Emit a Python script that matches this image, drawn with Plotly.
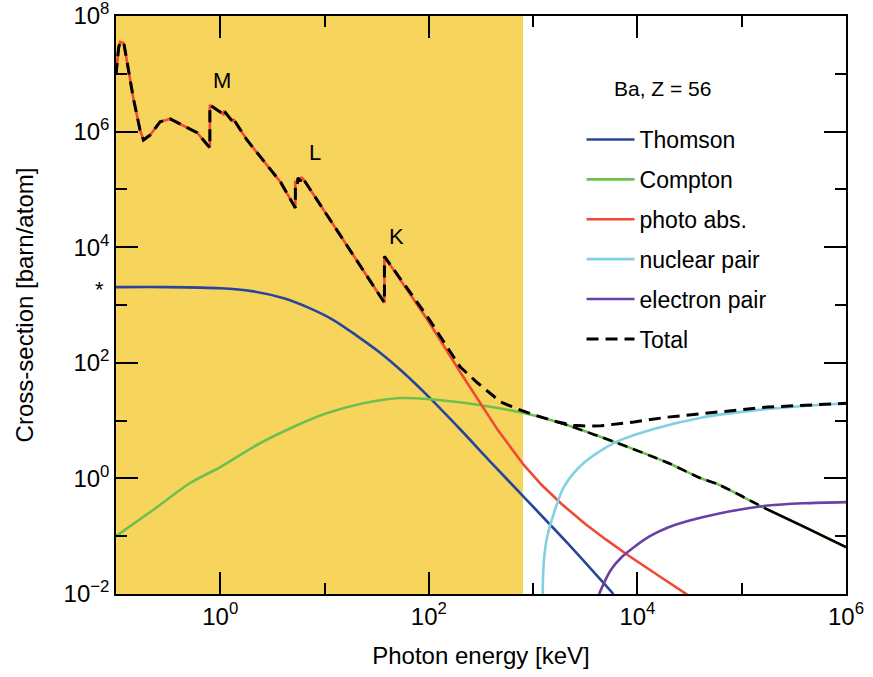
import plotly.graph_objects as go

# ---------------- data (log10 of photon energy [keV], log10 of cross-section [barn/atom]) ----------
thomson_logE = [-1.0, -0.5, 0.0, 0.3, 0.6, 0.85, 1.085, 1.3, 1.536, 1.75, 2.016, 2.3, 2.6, 2.91, 3.33, 3.77]
thomson_logS = [3.31, 3.31, 3.29, 3.24, 3.12, 2.95, 2.74, 2.48, 2.17, 1.84, 1.38, 0.85, 0.27, -0.32, -1.12, -2.0]

compton_logE = [-1.0, -0.645, -0.289, 0.0, 0.383, 0.70, 1.027, 1.373, 1.728, 2.016, 2.37, 2.91, 3.33, 3.81, 4.29, 4.61, 4.77, 5.215, 5.6, 6.0]
compton_logS = [-1.0, -0.547, -0.08, 0.197, 0.61, 0.89, 1.13, 1.30, 1.39, 1.37, 1.30, 1.13, 0.92, 0.61, 0.27, 0.0, -0.10, -0.51, -0.84, -1.19]

photo_logE = [-1.0, -0.975, -0.96, -0.925, -0.897, -0.836, -0.77, -0.737, -0.673, -0.577, -0.481, -0.356, -0.222,
              -0.1, -0.1, 0.03, 0.035, 0.12, 0.125, 0.256, 0.412, 0.58, 0.72,
              0.72, 0.74, 0.745, 0.77, 0.775, 0.80, 1.0, 1.2, 1.4, 1.574,
              1.574, 1.985, 2.30, 2.497, 2.66, 2.91, 3.08, 3.265, 3.5, 3.7, 3.91, 4.2, 4.485]
photo_logS = [6.98, 7.45, 7.55, 7.53, 7.24, 6.60, 6.03, 5.855, 5.94, 6.17, 6.22, 6.11, 5.98,
              5.72, 6.46, 6.30, 6.36, 6.17, 6.22, 5.855, 5.51, 5.12, 4.68,
              5.13, 5.12, 5.20, 5.14, 5.21, 5.17, 4.62, 4.07, 3.52, 3.04,
              3.84, 2.75, 1.84, 1.30, 0.84, 0.232, -0.11, -0.43, -0.79, -1.06, -1.33, -1.68, -2.02]

nuclear_logE = [3.09, 3.10, 3.13, 3.17, 3.294, 3.486, 3.774, 4.13, 4.61, 5.25, 6.0]
nuclear_logS = [-2.2, -1.5, -1.05, -0.77, -0.15, 0.27, 0.61, 0.84, 1.05, 1.20, 1.30]

electron_logE = [3.60, 3.63, 3.745, 3.85, 3.966, 4.12, 4.293, 4.5, 4.773, 5.254, 5.6, 6.0]
electron_logS = [-2.3, -2.02, -1.585, -1.36, -1.19, -1.0, -0.85, -0.73, -0.61, -0.47, -0.43, -0.41]

total_high_logE = [1.985, 2.30, 2.468, 2.69, 2.88, 3.025, 3.236, 3.39, 3.52, 3.65, 3.80, 3.966, 4.29, 4.77, 5.25, 6.0]
total_high_logS = [2.80, 1.93, 1.65, 1.32, 1.18, 1.09, 0.976, 0.92, 0.905, 0.91, 0.94, 0.976, 1.06, 1.15, 1.235, 1.30]

# second black curve (sum without pair production) following Compton at high energy
nopair_logE = [3.236, 3.33, 3.81, 4.29, 4.61, 4.77, 5.215]
nopair_logS = [0.976, 0.92, 0.61, 0.27, 0.0, -0.10, -0.51]
nopair_tail_logE = [5.215, 5.6, 6.0]
nopair_tail_logS = [-0.51, -0.84, -1.19]

edge_labels = ["M", "L", "K"]
edge_label_logE = [0.02, 0.91, 1.69]
edge_label_logS = [6.88, 5.64, 4.19]

shade_max_keV = 800.0
x_tickvals = [1, 1e2, 1e4, 1e6]
x_ticktext = ["10<sup>0</sup>", "10<sup>2</sup>", "10<sup>4</sup>", "10<sup>6</sup>"]
x_minor = [1e-1, 1e1, 1e3, 1e5]
y_tickvals = [1e-2, 1, 1e2, 1e4, 1e6, 1e8]
y_ticktext = ["10<sup>\u22122</sup>", "10<sup>0</sup>", "10<sup>2</sup>", "10<sup>4</sup>", "10<sup>6</sup>", "10<sup>8</sup>"]
y_minor = [1e-1, 1e1, 1e3, 1e5, 1e7]

# ---------------------------------------------------------------------------------------------
def p10(a):
    return [10 ** v for v in a]

FONT = "Liberation Sans"
BLUE = "#28459c"
GREEN = "#6cc04f"
RED = "#ee4a35"
CYAN = "#82d1e2"
PURPLE = "#6a3fa6"
YELLOW = "#f7d55c"
LW = 2.6

fig = go.Figure()

# shaded region
fig.add_trace(go.Scatter(x=[0.1, shade_max_keV, shade_max_keV, 0.1], y=[1e-2, 1e-2, 1e8, 1e8],
                         fill="toself", fillcolor=YELLOW, line=dict(width=0), mode="lines",
                         hoverinfo="skip", showlegend=False))

fig.add_trace(go.Scatter(x=p10(thomson_logE), y=p10(thomson_logS), name="Thomson", mode="lines",
                         line=dict(color=BLUE, width=LW, shape="spline", smoothing=0.8), legendgroup="a"))
fig.add_trace(go.Scatter(x=p10(compton_logE), y=p10(compton_logS), name="Compton", mode="lines",
                         line=dict(color=GREEN, width=LW, shape="spline", smoothing=0.8), legendgroup="b"))
fig.add_trace(go.Scatter(x=p10(photo_logE), y=p10(photo_logS), name="photo abs.", mode="lines",
                         line=dict(color=RED, width=LW), legendgroup="c"))
fig.add_trace(go.Scatter(x=p10(nuclear_logE), y=p10(nuclear_logS), name="nuclear pair", mode="lines",
                         line=dict(color=CYAN, width=LW, shape="spline", smoothing=0.8), legendgroup="d"))
fig.add_trace(go.Scatter(x=p10(electron_logE), y=p10(electron_logS), name="electron pair", mode="lines",
                         line=dict(color=PURPLE, width=LW, shape="spline", smoothing=0.8), legendgroup="e"))

fig.add_trace(go.Scatter(x=p10(nopair_logE), y=p10(nopair_logS), mode="lines", showlegend=False,
                         line=dict(color="black", width=2.6, dash="10px,6px", shape="spline", smoothing=0.8)))
fig.add_trace(go.Scatter(x=p10(nopair_tail_logE), y=p10(nopair_tail_logS), mode="lines", showlegend=False,
                         line=dict(color="black", width=2.6, shape="spline", smoothing=0.8)))

k_top = photo_logE.index(1.574) + 2
total_logE = photo_logE[:k_top] + total_high_logE
total_logS = photo_logS[:k_top] + total_high_logS
fig.add_trace(go.Scatter(x=p10(total_logE), y=p10(total_logS), name="Total", mode="lines",
                         line=dict(color="black", width=3, dash="12px,7px"), legendgroup="f"))

for t, xe, ys in zip(edge_labels, edge_label_logE, edge_label_logS):
    fig.add_annotation(x=xe, y=ys, text=t, showarrow=False, xanchor="center", yanchor="middle",
                       font=dict(size=22, color="black", family=FONT))

fig.add_annotation(x=-0.022, xref="paper", y=thomson_logS[0] - 0.05, text="*", showarrow=False,
                   xanchor="center", yanchor="middle", font=dict(size=22, color="black", family=FONT))
fig.add_annotation(x=0.749, xref="paper", y=0.874, yref="paper", text="Ba, Z = 56", showarrow=False,
                   xanchor="center", yanchor="middle", font=dict(size=21, color="black", family=FONT))

axis_common = dict(type="log", showgrid=False, zeroline=False, showline=True, linecolor="black", linewidth=1.5,
                   mirror="allticks", ticks="inside", ticklen=22, tickwidth=1.5, tickcolor="black",
                   automargin=False, ticklabeloverflow="allow",
                   tickfont=dict(size=24, color="black", family=FONT))

fig.update_xaxes(range=[-1, 6], tickvals=x_tickvals, ticktext=x_ticktext,
                 minor=dict(tickvals=x_minor, ticklen=11, tickwidth=1.5, tickcolor="black", ticks="inside"),
                 title=dict(text="Photon energy [keV]", font=dict(size=24, color="black", family=FONT), standoff=19),
                 **axis_common)
fig.update_yaxes(range=[-2, 8], tickvals=y_tickvals, ticktext=y_ticktext,
                 minor=dict(tickvals=y_minor, ticklen=11, tickwidth=1.5, tickcolor="black", ticks="inside"),
                 title=dict(text="Cross-section [barn/atom]", font=dict(size=24, color="black", family=FONT), standoff=23),
                 **axis_common)

fig.update_layout(
    width=873, height=677,
    margin=dict(l=116, r=27, t=16, b=83),
    paper_bgcolor="white", plot_bgcolor="white",
    font=dict(family=FONT, color="black"),
    showlegend=True,
    legend=dict(x=0.6377, y=0.8235, xanchor="left", yanchor="top", bgcolor="rgba(0,0,0,0)",
                font=dict(size=23, color="black", family=FONT), tracegroupgap=7, itemwidth=48),
)

fig.write_html("out.html")
